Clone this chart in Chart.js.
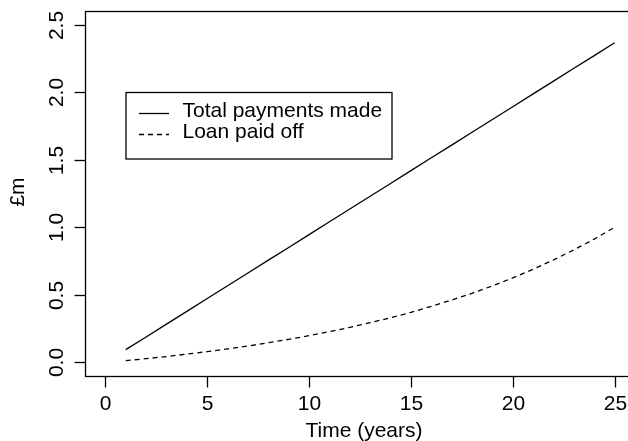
<!DOCTYPE html>
<html>
<head>
<meta charset="utf-8">
<script src="https://cdn.jsdelivr.net/npm/chart.js@4/dist/chart.umd.min.js"></script>
<style>
  html, body { margin: 0; padding: 0; background: #fff; overflow: hidden; }
  #wrap { width: 640px; height: 441px; position: relative; }
</style>
</head>
<body>
<div id="wrap"><canvas id="loanChart"></canvas></div>
<script>
// Mortgage of £1m over 25 years: cumulative payments vs principal repaid
const years = [1, 2, 3, 4, 5, 6, 7, 8, 9, 10, 11, 12, 13, 14, 15, 16, 17, 18, 19, 20, 21, 22, 23, 24, 25];
const totalPayments = [0.095, 0.189, 0.284, 0.378, 0.473, 0.568, 0.662, 0.757, 0.851, 0.946,
    1.041, 1.135, 1.230, 1.324, 1.419, 1.514, 1.608, 1.703, 1.797, 1.892,
    1.987, 2.081, 2.176, 2.270, 2.365];
const loanPaidOff = [0.014, 0.028, 0.044, 0.062, 0.080, 0.100, 0.122, 0.146, 0.171, 0.198,
    0.228, 0.260, 0.294, 0.331, 0.371, 0.415, 0.462, 0.512, 0.567, 0.626,
    0.690, 0.759, 0.833, 0.913, 1.000];
const xTicks = [0, 5, 10, 15, 20, 25];
const yTicks = [0, 0.5, 1, 1.5, 2, 2.5];
const seriesNames = ['Total payments made', 'Loan paid off'];

const FONT = '21px "Liberation Sans", Arial, Helvetica, sans-serif';

function toPoints(xs, ys) {
    return xs.map((x, i) => ({ x: x, y: ys[i] }));
}

// R-style frame, ticks, labels and legend
const baseAxes = {
    id: 'baseAxes',
    afterDraw(chart) {
        const ctx = chart.ctx;
        const area = chart.chartArea;
        const xs = chart.scales.x;
        const ys = chart.scales.y;
        const L = Math.round(area.left) + 0.5;
        const B = Math.round(area.bottom) + 0.5;
        const T = Math.round(area.top) + 0.5;

        ctx.save();
        ctx.strokeStyle = '#000';
        ctx.lineWidth = 1.3;
        ctx.strokeRect(L, T, area.right - L, B - T);

        ctx.fillStyle = '#000';
        ctx.font = FONT;

        // x axis
        ctx.textAlign = 'center';
        ctx.textBaseline = 'alphabetic';
        xTicks.forEach(v => {
            const px = Math.round(xs.getPixelForValue(v)) + 0.5;
            ctx.beginPath();
            ctx.moveTo(px, B);
            ctx.lineTo(px, B + 11);
            ctx.stroke();
            ctx.fillText(String(v), px, 409.5);
        });

        // y axis, labels turned to read upwards
        yTicks.forEach(v => {
            const py = Math.round(ys.getPixelForValue(v)) + 0.5;
            ctx.beginPath();
            ctx.moveTo(L, py);
            ctx.lineTo(L - 11, py);
            ctx.stroke();
            ctx.save();
            ctx.translate(62.5, py);
            ctx.rotate(-Math.PI / 2);
            ctx.fillText(v.toFixed(1), 0, 0);
            ctx.restore();
        });

        // axis titles
        ctx.fillText('Time (years)', 364, 437);
        ctx.save();
        ctx.translate(23.5, 192);
        ctx.rotate(-Math.PI / 2);
        ctx.fillText('£m', 0, 0);
        ctx.restore();

        // legend
        ctx.strokeRect(126, 92.5, 266, 66.5);
        const rows = [116.5, 137.5];
        chart.data.datasets.forEach((ds, i) => {
            const yLine = Math.round(rows[i] - 4) + 0.5;
            ctx.save();
            ctx.lineWidth = ds.borderWidth;
            ctx.setLineDash(ds.borderDash || []);
            ctx.beginPath();
            ctx.moveTo(139, yLine);
            ctx.lineTo(169, yLine);
            ctx.stroke();
            ctx.restore();
            ctx.textAlign = 'left';
            ctx.fillText(ds.label, 182.5, rows[i]);
        });
        ctx.restore();
    }
};

new Chart(document.getElementById('loanChart').getContext('2d'), {
    type: 'line',
    data: {
        datasets: [{
            label: seriesNames[0],
            data: toPoints(years, totalPayments),
            borderColor: '#000',
            borderWidth: 1.3,
            pointRadius: 0,
            fill: false,
            tension: 0
        }, {
            label: seriesNames[1],
            data: toPoints(years, loanPaidOff),
            borderColor: '#000',
            borderWidth: 1.3,
            borderDash: [5, 4],
            pointRadius: 0,
            fill: false,
            tension: 0
        }]
    },
    options: {
        responsive: true,
        maintainAspectRatio: false,
        animation: false,
        layout: {
            padding: { left: 85, top: 11, right: 5, bottom: 65 }
        },
        plugins: {
            legend: { display: false },
            tooltip: { enabled: false }
        },
        scales: {
            x: { type: 'linear', min: -1, max: 26, display: false },
            y: { type: 'linear', min: -0.1, max: 2.6, display: false }
        }
    },
    plugins: [baseAxes]
});
</script>
</body>
</html>
